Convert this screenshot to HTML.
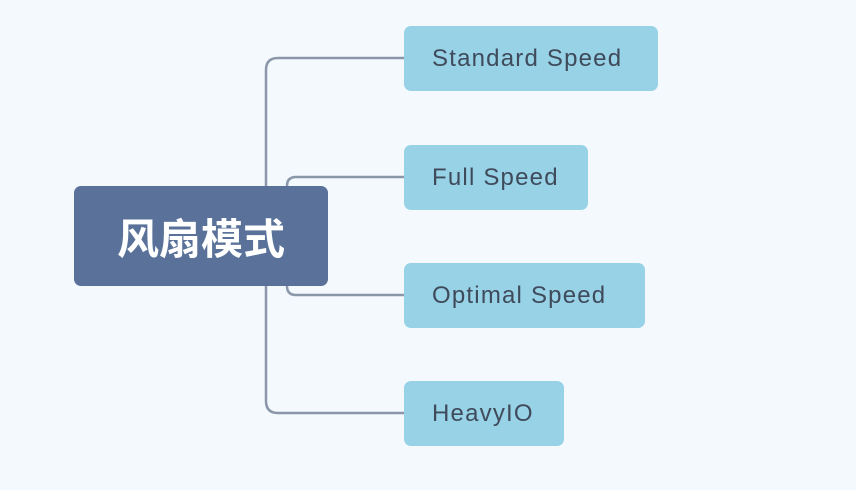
<!DOCTYPE html>
<html><head><meta charset="utf-8"><style>
body{margin:0;width:856px;height:490px;background:#f4f9fe;position:relative;overflow:hidden;font-family:"Liberation Sans","Noto Sans CJK SC",sans-serif}
.c{position:absolute;left:74px;top:186px;width:254px;height:100px;background:#5a7299;border-radius:7px;color:#fff;font-weight:bold;font-size:42px;display:flex;align-items:center;justify-content:center}
.n{position:absolute;left:404px;height:65px;background:#97d2e7;border-radius:7px;color:#3f4a5a;font-size:24px;letter-spacing:1.2px;line-height:66px;padding-left:28px;box-sizing:border-box;white-space:nowrap}
</style></head><body>
<svg width="856" height="490" style="position:absolute;left:0;top:0">
<g fill="none" stroke="#8a97a9" stroke-width="2.5">
<path d="M266 186 V70 Q266 58 278 58 H404"/>
<path d="M266 286 V401 Q266 413 278 413 H404"/>
<path d="M287 186 Q287 177 296 177 H404"/>
<path d="M287 286 Q287 295 296 295 H404"/>
</g></svg>
<div class="c">风扇模式</div>
<div class="n" style="top:26px;width:254px">Standard Speed</div>
<div class="n" style="top:145px;width:184px">Full Speed</div>
<div class="n" style="top:263px;width:241px">Optimal Speed</div>
<div class="n" style="top:381px;width:160px">HeavyIO</div>
</body></html>
